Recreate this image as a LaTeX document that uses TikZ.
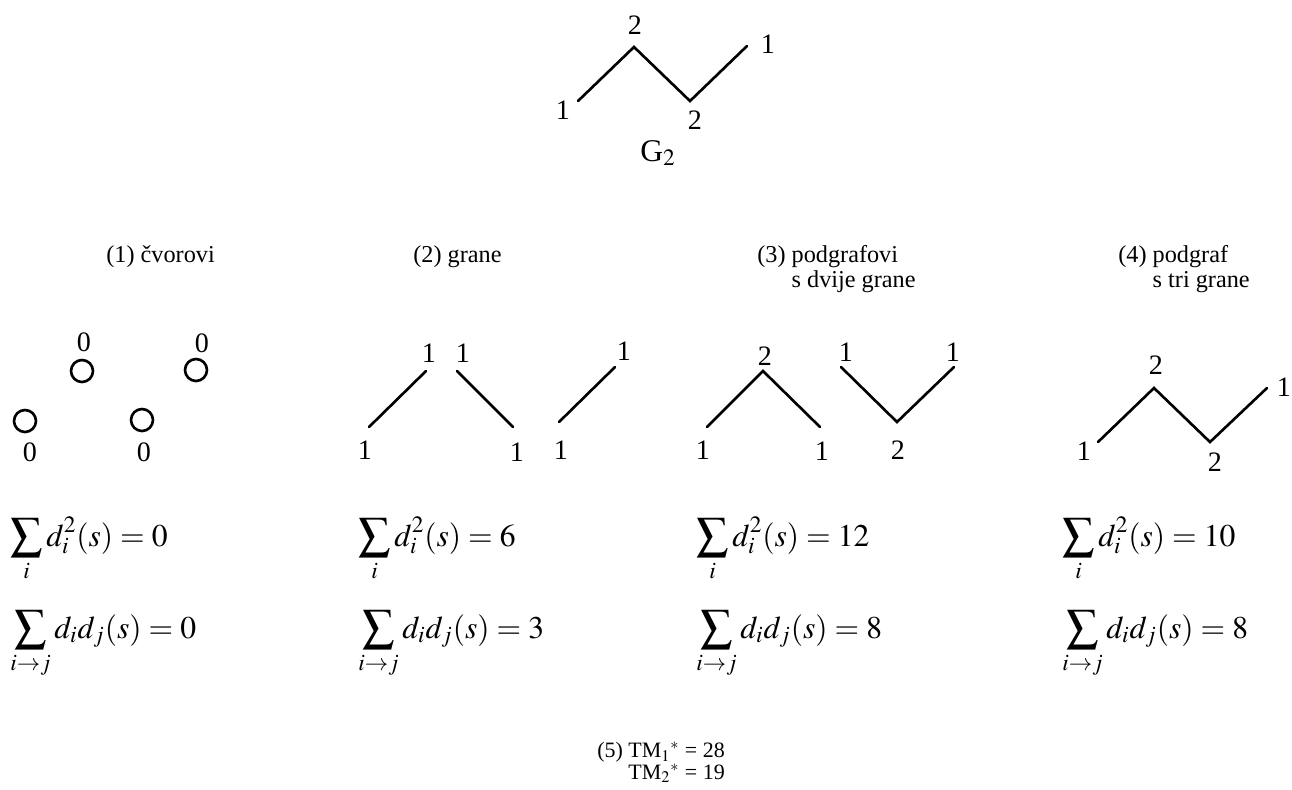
\documentclass[tikz,border=0pt]{standalone}
\usepackage{mathptmx}
\usepackage{fontspec}
\setmainfont{Liberation Serif}
\begin{document}
\begin{tikzpicture}[x=0.02cm,y=-0.02cm,
  edge/.style={line width=1.5pt,line cap=round},
  vtx/.style={circle,draw,line width=1.5pt,minimum size=0.44cm,inner sep=0pt},
  num/.style={inner sep=0pt,font=\fontsize{16}{18}\selectfont},
  head/.style={anchor=base west,align=left,inner sep=0pt,font=\fontsize{13.8}{13.8}\selectfont},
  sumf/.style={anchor=base west,inner sep=0pt,font=\fontsize{18}{20}\selectfont}]
\useasboundingbox (0,0) rectangle (1292,789);
% the graph G2
\coordinate (g1) at (578,101);
\coordinate (g2) at (634,47);
\coordinate (g3) at (690,101);
\coordinate (g4) at (747,46);
\draw[edge] (g1) -- (g2) -- (g3) -- (g4);
\node[num] (lg1) at (563,110) {1};
\node[num] (lg2) at (635,25) {2};
\node[num] (lg3) at (695,120) {2};
\node[num] (lg4) at (768,44) {1};
\node[num,font=\fontsize{18}{20}\selectfont] (gname) at (658,153) {G$_2$};
% headings
\node[head] (h1) at (106,262) {(1) čvorovi};
\node[head] (h2) at (413,262) {(2) grane};
\node[head] (h3) at (757,287) {(3) podgrafovi\\\phantom{(3) }s dvije grane};
\node[head] (h4) at (1118,287) {(4) podgraf\\\phantom{(4) }s tri grane};
% (1) vertices
\node[vtx] (c1) at (82,371) {};
\node[vtx] (c2) at (196,370) {};
\node[vtx] (c3) at (25,421) {};
\node[vtx] (c4) at (142,420) {};
\node[num] (lc1) at (84,342) {0};
\node[num] (lc2) at (202,343) {0};
\node[num] (lc3) at (30,452) {0};
\node[num] (lc4) at (144,452) {0};
% (2) edges
\coordinate (e1a) at (369,427);
\coordinate (e1b) at (426,371);
\coordinate (e2a) at (457,371);
\coordinate (e2b) at (513,427);
\coordinate (e3a) at (559,422);
\coordinate (e3b) at (615,367);
\draw[edge] (e1a) -- (e1b);
\draw[edge] (e2a) -- (e2b);
\draw[edge] (e3a) -- (e3b);
\node[num] (le1b) at (429,353) {1};
\node[num] (le2a) at (463,353) {1};
\node[num] (le3b) at (624,351) {1};
\node[num] (le1a) at (365,450) {1};
\node[num] (le2b) at (517,452) {1};
\node[num] (le3a) at (561,450) {1};
% (3) two-edge subgraphs
\coordinate (p1) at (707,427);
\coordinate (p2) at (763,371);
\coordinate (p3) at (820,427);
\coordinate (q1) at (841,367);
\coordinate (q2) at (897,422);
\coordinate (q3) at (954,367);
\draw[edge] (p1) -- (p2) -- (p3);
\draw[edge] (q1) -- (q2) -- (q3);
\node[num] (lp2) at (765,356) {2};
\node[num] (lp1) at (703,450) {1};
\node[num] (lp3) at (822,451) {1};
\node[num] (lq1) at (846,352) {1};
\node[num] (lq3) at (953,352) {1};
\node[num] (lq2) at (898,450) {2};
% (4) three-edge subgraph
\coordinate (r1) at (1098,442);
\coordinate (r2) at (1154,388);
\coordinate (r3) at (1210,442);
\coordinate (r4) at (1267,388);
\draw[edge] (r1) -- (r2) -- (r3) -- (r4);
\node[num] (lr2) at (1156,365) {2};
\node[num] (lr1) at (1084,451) {1};
\node[num] (lr3) at (1215,462) {2};
\node[num] (lr4) at (1284,387) {1};
% sums
\node[sumf] (s1a) at (10,546) {$\displaystyle\sum_i d_i^2(s)=0$};
\node[sumf] (s1b) at (10,638) {$\displaystyle\sum_{i\to j} d_i d_j(s)=0$};
\node[sumf] (s2a) at (358,546) {$\displaystyle\sum_i d_i^2(s)=6$};
\node[sumf] (s2b) at (358,638) {$\displaystyle\sum_{i\to j} d_i d_j(s)=3$};
\node[sumf] (s3a) at (696,546) {$\displaystyle\sum_i d_i^2(s)=12$};
\node[sumf] (s3b) at (696,638) {$\displaystyle\sum_{i\to j} d_i d_j(s)=8$};
\node[sumf] (s4a) at (1062,546) {$\displaystyle\sum_i d_i^2(s)=10$};
\node[sumf] (s4b) at (1062,638) {$\displaystyle\sum_{i\to j} d_i d_j(s)=8$};
% (5) result
\node[head,font=\fontsize{12.5}{12}\selectfont] (res) at (597,779) {(5) TM$_1{}^*$ = 28\\\phantom{(5) }TM$_2{}^*$ = 19};
\end{tikzpicture}
\end{document}
